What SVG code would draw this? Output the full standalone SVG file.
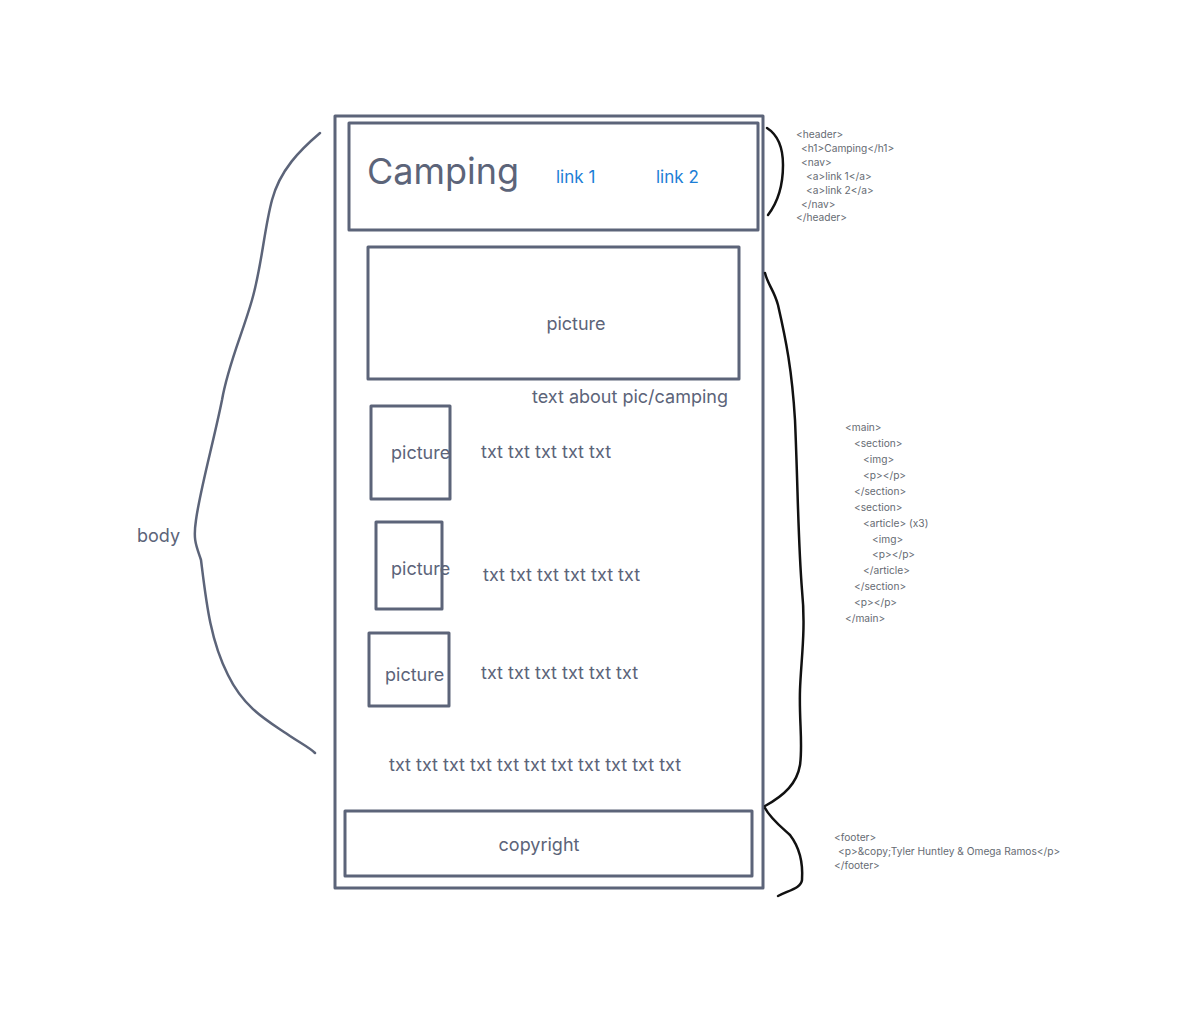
<svg xmlns="http://www.w3.org/2000/svg" width="1199" height="1014" viewBox="0 0 1199 1014">
<style>
.box{fill:none;stroke:#5c6479;stroke-width:3;stroke-linejoin:round}
.t{font-family:Inter,"Liberation Sans",sans-serif;fill:#5c6479;font-size:18px}
.link{font-family:Inter,"Liberation Sans",sans-serif;fill:#1c7ed6;font-size:17px}
.code{font-family:Inter,"Liberation Sans",sans-serif;fill:#666b73;font-size:10.2px}
.brace{fill:none;stroke:#5c6479;stroke-width:2.5;stroke-linecap:round}
.ink{fill:none;stroke:#111;stroke-width:2.5;stroke-linecap:round}
</style>
<rect width="1199" height="1014" fill="#fff"/>
<g id="page"><rect class="box" x="335" y="116" width="428" height="772"/></g>
<g id="header">
<rect class="box" x="349" y="123" width="409" height="107"/>
<text class="t" x="367" y="184" style="font-size:36px">Camping</text>
<text class="link" x="556" y="183">link 1</text>
<text class="link" x="656" y="183">link 2</text>
</g>
<g id="hero">
<rect class="box" x="368" y="247" width="371" height="132"/>
<text class="t" x="576" y="330" text-anchor="middle">picture</text>
<text class="t" x="532" y="403">text about pic/camping</text>
</g>
<g id="article1">
<rect class="box" x="371" y="406" width="79" height="93"/>
<text class="t" x="391" y="459">picture</text>
<text class="t" x="481" y="458">txt txt txt txt txt</text>
</g>
<g id="article2">
<rect class="box" x="376" y="522" width="66" height="87"/>
<text class="t" x="391" y="575">picture</text>
<text class="t" x="483" y="581">txt txt txt txt txt txt</text>
</g>
<g id="article3">
<rect class="box" x="369" y="633" width="80" height="73"/>
<text class="t" x="385" y="681">picture</text>
<text class="t" x="481" y="679">txt txt txt txt txt txt</text>
</g>
<g id="closing"><text class="t" x="389" y="771">txt txt txt txt txt txt txt txt txt txt txt</text></g>
<g id="footer">
<rect class="box" x="345" y="811" width="407" height="65"/>
<text class="t" x="539" y="851" text-anchor="middle">copyright</text>
</g>
<g id="body-label"><text class="t" x="137" y="542">body</text></g>
<g id="connectors">
<path class="brace" d="M320,133 C300,150 280,170 272,200 C264,230 262,265 252,300 C242,335 228,365 222,400 C214,440 200,490 196,520 C193,540 196,545 201,560 C206,600 210,640 228,675 C245,710 270,722 290,736 C302,744 310,748 315,753"/>
<path class="ink" d="M767,128 C778,135 783,148 783,165 C783,185 778,202 768,215"/>
<path class="ink" d="M765,273 C768,285 774,290 778,305 C786,340 792,370 795,420 C798,490 798,540 802,590 C806,630 801,660 800,690 C799,720 803,745 800,765 C797,783 785,795 765,806"/>
<path class="ink" d="M765,808 C770,818 780,826 790,835 C800,848 803,865 802,880 C801,888 790,890 778,896"/>
</g>
<g id="code-header" class="code">
<text x="796" y="138">&lt;header&gt;</text>
<text x="801" y="152">&lt;h1&gt;Camping&lt;/h1&gt;</text>
<text x="801" y="166">&lt;nav&gt;</text>
<text x="806" y="180">&lt;a&gt;link 1&lt;/a&gt;</text>
<text x="806" y="194">&lt;a&gt;link 2&lt;/a&gt;</text>
<text x="801" y="208">&lt;/nav&gt;</text>
<text x="796" y="221">&lt;/header&gt;</text>
</g>
<g id="code-main" class="code">
<text x="845" y="431">&lt;main&gt;</text>
<text x="854" y="447">&lt;section&gt;</text>
<text x="863" y="463">&lt;img&gt;</text>
<text x="863" y="479">&lt;p&gt;&lt;/p&gt;</text>
<text x="854" y="495">&lt;/section&gt;</text>
<text x="854" y="511">&lt;section&gt;</text>
<text x="863" y="527">&lt;article&gt; (x3)</text>
<text x="872" y="543">&lt;img&gt;</text>
<text x="872" y="558">&lt;p&gt;&lt;/p&gt;</text>
<text x="863" y="574">&lt;/article&gt;</text>
<text x="854" y="590">&lt;/section&gt;</text>
<text x="854" y="606">&lt;p&gt;&lt;/p&gt;</text>
<text x="845" y="622">&lt;/main&gt;</text>
</g>
<g id="code-footer" class="code">
<text x="834" y="841">&lt;footer&gt;</text>
<text x="838" y="855">&lt;p&gt;&amp;copy;Tyler Huntley &amp; Omega Ramos&lt;/p&gt;</text>
<text x="834" y="869">&lt;/footer&gt;</text>
</g>
</svg>
